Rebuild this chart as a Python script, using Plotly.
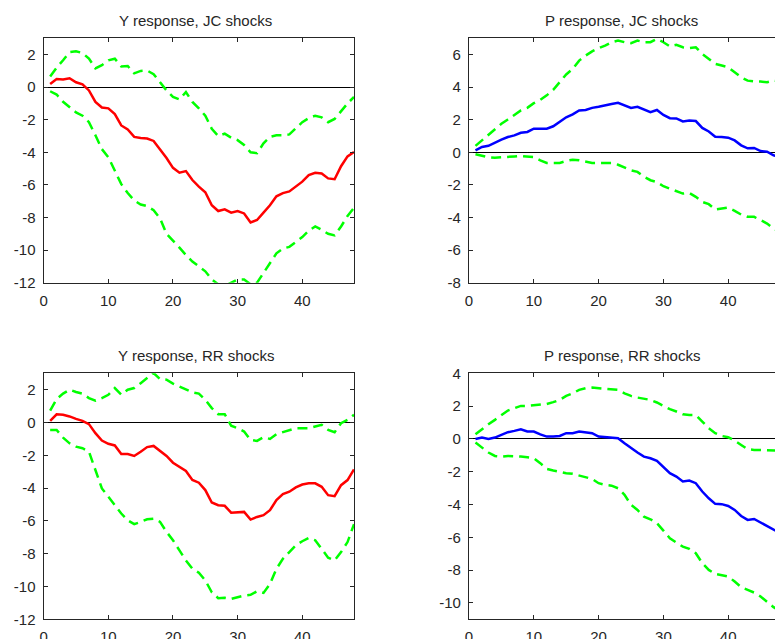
import plotly.graph_objects as go

t = list(range(1, 49))

# Y response, JC shocks
y_jc_mid = [0.2, 0.5, 0.47, 0.55, 0.3, 0.17, -0.2, -0.9, -1.25, -1.3, -1.65, -2.35, -2.6, -3.05, -3.12, -3.15,
            -3.3, -3.8, -4.35, -4.95, -5.25, -5.15, -5.7, -6.1, -6.45, -7.25, -7.6, -7.5, -7.7, -7.6, -7.75, -8.3,
            -8.15, -7.7, -7.25, -6.7, -6.5, -6.4, -6.1, -5.8, -5.4, -5.25, -5.3, -5.6, -5.65, -4.85, -4.25, -3.98]
y_jc_up = [0.65, 1.2, 1.65, 2.15, 2.2, 2.1, 1.75, 1.15, 1.35, 1.65, 1.75, 1.27, 1.3, 0.85, 1.0, 1.02,
           0.8, 0.27, -0.2, -0.6, -0.75, -0.3, -0.9, -1.3, -1.75, -2.55, -3.0, -2.85, -3.1, -3.25, -3.55, -4.0,
           -4.05, -3.45, -3.05, -2.95, -2.95, -2.9, -2.55, -2.15, -1.9, -1.75, -1.85, -2.15, -1.95, -1.45, -1.0, -0.6]
y_jc_lo = [-0.25, -0.45, -0.9, -1.25, -1.55, -1.75, -2.15, -2.95, -3.8, -4.3, -5.1, -5.95, -6.5, -6.95, -7.2, -7.3,
           -7.55, -8.05, -9.0, -9.4, -9.85, -10.3, -10.7, -11.0, -11.3, -11.8, -12.1, -12.2, -12.0, -11.8, -11.8, -12.1,
           -12.0, -11.4, -10.8, -10.2, -9.9, -9.8, -9.5, -9.2, -8.8, -8.55, -8.75, -9.0, -9.1, -8.55, -7.9, -7.4]

# P response, JC shocks
p_jc_mid = [0.12, 0.33, 0.4, 0.6, 0.78, 0.94, 1.04, 1.2, 1.25, 1.45, 1.47, 1.45, 1.6, 1.85, 2.15, 2.33,
            2.57, 2.6, 2.73, 2.8, 2.9, 2.97, 3.04, 2.88, 2.73, 2.8, 2.63, 2.47, 2.6, 2.3, 2.1, 2.08,
            1.9, 1.96, 1.92, 1.5, 1.28, 0.96, 0.94, 0.9, 0.73, 0.43, 0.25, 0.27, 0.08, 0.04, -0.18, -0.3]
p_jc_up = [0.4, 0.73, 1.08, 1.45, 1.75, 2.02, 2.3, 2.57, 2.73, 3.02, 3.22, 3.5, 3.84, 4.3, 4.78, 5.12,
           5.63, 5.94, 6.2, 6.39, 6.55, 6.76, 6.86, 6.76, 6.7, 6.86, 6.76, 6.76, 6.96, 6.76, 6.5, 6.6,
           6.45, 6.4, 6.45, 6.04, 5.73, 5.43, 5.33, 5.22, 4.92, 4.61, 4.4, 4.35, 4.35, 4.3, 4.4, 4.35]
p_jc_lo = [-0.12, -0.22, -0.3, -0.33, -0.29, -0.29, -0.25, -0.22, -0.25, -0.29, -0.49, -0.65, -0.65, -0.65, -0.53, -0.45,
           -0.49, -0.59, -0.65, -0.65, -0.63, -0.65, -0.76, -0.94, -1.1, -1.2, -1.5, -1.71, -1.82, -2.08, -2.22, -2.37,
           -2.53, -2.49, -2.73, -3.04, -3.18, -3.51, -3.45, -3.39, -3.59, -3.82, -3.96, -3.96, -4.16, -4.37, -4.67, -4.9]

# Y response, RR shocks
y_rr_mid = [0.1, 0.5, 0.47, 0.37, 0.22, 0.1, -0.1, -0.65, -1.1, -1.3, -1.4, -1.92, -1.92, -2.04, -1.78, -1.5,
            -1.43, -1.71, -2.04, -2.45, -2.7, -2.96, -3.5, -3.67, -4.12, -4.88, -5.04, -5.08, -5.5, -5.49, -5.45, -5.92,
            -5.76, -5.65, -5.35, -4.73, -4.37, -4.22, -3.96, -3.78, -3.71, -3.71, -3.92, -4.43, -4.49, -3.82, -3.51, -2.86]
y_rr_up = [0.73, 1.43, 1.76, 2.0, 1.86, 1.76, 1.49, 1.33, 1.49, 1.69, 2.1, 1.69, 2.0, 2.1, 2.4, 2.71,
           3.02, 2.65, 2.61, 2.37, 2.2, 2.0, 1.84, 1.76, 1.39, 0.88, 0.51, 0.51, -0.2, -0.35, -0.55, -1.06,
           -1.12, -0.9, -1.0, -0.71, -0.59, -0.51, -0.35, -0.35, -0.35, -0.24, -0.14, -0.45, -0.59, -0.04, 0.16, 0.47]
y_rr_lo = [-0.45, -0.45, -0.92, -1.27, -1.47, -1.57, -1.78, -2.9, -4.02, -4.53, -5.04, -5.55, -5.96, -6.2, -6.06, -5.9,
           -5.86, -6.06, -6.67, -7.18, -7.8, -8.41, -8.92, -9.16, -9.63, -10.35, -10.71, -10.69, -10.76, -10.65, -10.55, -10.51,
           -10.29, -10.39, -9.84, -8.92, -8.31, -7.9, -7.49, -7.24, -7.04, -7.18, -7.69, -8.24, -8.41, -7.9, -7.29, -6.2]

# P response, RR shocks
p_rr_mid = [0.0, 0.08, 0.0, 0.08, 0.24, 0.41, 0.49, 0.59, 0.45, 0.45, 0.28, 0.14, 0.14, 0.18, 0.35, 0.35,
            0.45, 0.39, 0.35, 0.14, 0.1, 0.08, 0.04, -0.26, -0.57, -0.83, -1.08, -1.18, -1.34, -1.69, -2.09, -2.3,
            -2.6, -2.54, -2.7, -3.21, -3.62, -3.96, -3.98, -4.09, -4.33, -4.7, -4.94, -4.88, -5.1, -5.3, -5.55, -5.75]
p_rr_up = [0.28, 0.61, 0.89, 1.16, 1.46, 1.73, 1.87, 2.01, 2.01, 2.05, 2.09, 2.13, 2.24, 2.38, 2.62, 2.78,
           2.99, 3.09, 3.13, 3.09, 3.05, 3.05, 2.99, 2.78, 2.62, 2.52, 2.44, 2.38, 2.22, 2.01, 1.81, 1.67,
           1.5, 1.46, 1.46, 1.06, 0.65, 0.35, 0.18, 0.1, -0.1, -0.37, -0.63, -0.67, -0.67, -0.71, -0.71, -0.72]
p_rr_lo = [-0.22, -0.53, -0.83, -1.04, -1.08, -1.04, -1.04, -1.08, -1.12, -1.18, -1.48, -1.83, -1.93, -2.03, -2.09, -2.13,
           -2.24, -2.34, -2.44, -2.7, -2.8, -2.85, -3.01, -3.41, -4.02, -4.33, -4.74, -4.9, -5.14, -5.59, -6.06, -6.32,
           -6.57, -6.71, -6.97, -7.58, -7.99, -8.23, -8.29, -8.39, -8.7, -9.04, -9.21, -9.37, -9.61, -9.92, -10.26, -10.5]

titles = ["Y response, JC shocks", "P response, JC shocks", "Y response, RR shocks", "P response, RR shocks"]

x_ticks = [0, 10, 20, 30, 40]
x_ticktext = ["0", "10", "20", "30", "40"]
yticks_y = [2, 0, -2, -4, -6, -8, -10, -12]
yticks_y_text = ["2", "0", "-2", "-4", "-6", "-8", "-10", "-12"]
yticks_pjc = [6, 4, 2, 0, -2, -4, -6, -8]
yticks_pjc_text = ["6", "4", "2", "0", "-2", "-4", "-6", "-8"]
yticks_prr = [4, 2, 0, -2, -4, -6, -8, -10]
yticks_prr_text = ["4", "2", "0", "-2", "-4", "-6", "-8", "-10"]

panels = [
    dict(mid=y_jc_mid, up=y_jc_up, lo=y_jc_lo, color="#ff0000", yr=[-12, 3], tv=yticks_y, tt=yticks_y_text),
    dict(mid=p_jc_mid, up=p_jc_up, lo=p_jc_lo, color="#0000ff", yr=[-8, 7], tv=yticks_pjc, tt=yticks_pjc_text),
    dict(mid=y_rr_mid, up=y_rr_up, lo=y_rr_lo, color="#ff0000", yr=[-12, 3], tv=yticks_y, tt=yticks_y_text),
    dict(mid=p_rr_mid, up=p_rr_up, lo=p_rr_lo, color="#0000ff", yr=[-11, 4], tv=yticks_prr, tt=yticks_prr_text),
]

W, H = 775, 639
left_dom = [43.7 / W, 354.0 / W]
right_dom = [469.0 / W, 1.0]
top_dom = [(H - 282.7) / H, (H - 38.3) / H]
bot_dom = [(H - 619.3) / H, (H - 373.3) / H]
xdoms = [left_dom, right_dom, left_dom, right_dom]
ydoms = [top_dom, top_dom, bot_dom, bot_dom]
xranges = [[0, 48], [0, 306.0 / 6.48], [0, 48], [0, 306.0 / 6.48]]

fig = go.Figure()
font = dict(family="Liberation Sans, Arial, sans-serif", size=15, color="#262626")
axcol = "#262626"

for i, p in enumerate(panels):
    n = "" if i == 0 else str(i + 1)
    xa, ya = "x" + n, "y" + n
    for key, dash, col, w in [("up", "10px,6px", "#00ff00", 2.5), ("lo", "10px,6px", "#00ff00", 2.5),
                              ("mid", "solid", p["color"], 2.5)]:
        fig.add_trace(go.Scatter(x=t, y=p[key], mode="lines", xaxis=xa, yaxis=ya,
                                 line=dict(color=col, width=w, dash=dash), showlegend=False,
                                 hoverinfo="skip"))
    right = i in (1, 3)
    fig.layout["xaxis" + n] = dict(domain=xdoms[i], range=xranges[i], anchor=ya, showgrid=False,
                                   zeroline=False, showline=True, linecolor=axcol, linewidth=1.3,
                                   mirror="ticks", ticks="inside", ticklen=4, tickcolor=axcol,
                                   tickvals=x_ticks, ticktext=x_ticktext, tickfont=font,
                                   ticklabelstandoff=4,
                                   automargin=False, fixedrange=True)
    fig.layout["yaxis" + n] = dict(domain=ydoms[i], range=p["yr"], anchor=xa, showgrid=False,
                                   zeroline=True, zerolinecolor="#000000", zerolinewidth=1,
                                   showline=True, linecolor=axcol, linewidth=1.3,
                                   mirror=False if right else "ticks", ticks="inside", ticklen=4,
                                   tickcolor=axcol, tickvals=p["tv"], ticktext=p["tt"], tickfont=font,
                                   ticklabelstandoff=4,
                                   automargin=False, fixedrange=True)

title_pos = [(195.5, 20), (621.7, 20), (195.5, 355), (621.7, 355)]
for (px, py), txt in zip(title_pos, titles):
    fig.add_annotation(text=txt, x=px / W, y=1 - py / H, xref="paper", yref="paper",
                       xanchor="center", yanchor="middle", showarrow=False,
                       font=dict(family="Liberation Sans, Arial, sans-serif", size=15, color="#262626"))

fig.update_layout(width=W, height=H, margin=dict(l=0, r=0, t=0, b=0),
                  paper_bgcolor="white", plot_bgcolor="white", showlegend=False)

fig.write_html("out.html")
